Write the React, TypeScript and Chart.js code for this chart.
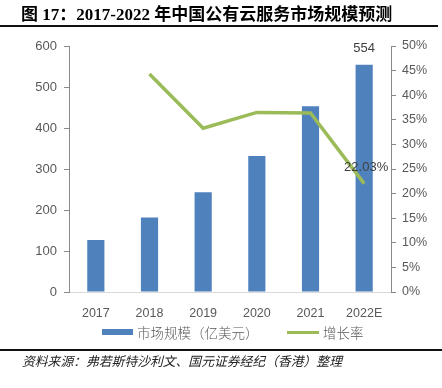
import React, { useEffect, useRef } from "react";
import { Chart, registerables } from "chart.js";

Chart.register(...registerables);

const categories = ["2017", "2018", "2019", "2020", "2021", "2022E"];
const marketSize = [127, 182, 243, 332, 453, 554];
const growthRate = [null, 44.3, 33.3, 36.5, 36.4, 22.03];
const leftTicks = [0, 100, 200, 300, 400, 500, 600];
const rightTicks = [0, 5, 10, 15, 20, 25, 30, 35, 40, 45, 50];
const barLabel = "市场规模（亿美元）";
const lineLabel = "增长率";
const title = "图 17：2017-2022 年中国公有云服务市场规模预测";
const source = "资料来源：弗若斯特沙利文、国元证券经纪（香港）整理";

const BLUE = "#4F81BD";
const GREEN = "#9BBB59";
const AXIS = "#898989";
const TICK_TEXT = "#595959";
const SANS = '"Liberation Sans", Arial, sans-serif';

const labelPlugin = {
  id: "valueLabels",
  afterDatasetsDraw(chart: any) {
    const ctx = chart.ctx;
    ctx.save();
    ctx.font = `13px ${SANS}`;
    ctx.fillStyle = "#404040";
    ctx.textAlign = "center";
    ctx.textBaseline = "middle";
    const barMeta = chart.getDatasetMeta(1);
    const last = marketSize.length - 1;
    const bar = barMeta.data[last];
    if (bar) ctx.fillText(String(marketSize[last]), bar.x, bar.y - 16);
    const lineMeta = chart.getDatasetMeta(0);
    const pt = lineMeta.data[last];
    const v = growthRate[last];
    if (pt && v != null) ctx.fillText(v.toFixed(2) + "%", pt.x + 2, pt.y - 16);
    ctx.restore();
  },
};

export default function App() {
  const ref = useRef<HTMLCanvasElement | null>(null);
  useEffect(() => {
    if (!ref.current) return;
    const chart = new Chart(ref.current, {
      type: "bar",
      data: {
        labels: categories,
        datasets: [
          {
            type: "line",
            label: lineLabel,
            data: growthRate,
            yAxisID: "y1",
            borderColor: GREEN,
            backgroundColor: GREEN,
            borderWidth: 3.5,
            pointRadius: 0,
            tension: 0,
            order: 0,
          } as any,
          {
            type: "bar",
            label: barLabel,
            data: marketSize,
            yAxisID: "y",
            backgroundColor: BLUE,
            barPercentage: 0.32,
            categoryPercentage: 1,
            order: 1,
          },
        ],
      },
      options: {
        responsive: false,
        animation: false,
        layout: { padding: { top: 46, left: 0, right: 0, bottom: 0 } },
        plugins: { legend: { display: false }, tooltip: { enabled: false } },
        scales: {
          x: {
            offset: true,
            grid: { display: true, drawOnChartArea: false, drawTicks: false },
            border: { display: true, color: "#D9D9D9", width: 1 },
            ticks: { color: TICK_TEXT, font: { size: 12.5, family: SANS }, padding: 14, maxRotation: 0 },
            afterFit(s: any) {
              s.height = 96;
            },
          },
          y: {
            position: "left",
            min: 0,
            max: 600,
            afterBuildTicks(s: any) {
              s.ticks = leftTicks.map((v) => ({ value: v }));
            },
            grid: { drawOnChartArea: false, drawTicks: true, tickLength: 5, color: AXIS },
            border: { display: true, color: AXIS, width: 1 },
            ticks: { color: TICK_TEXT, font: { size: 13, family: SANS }, padding: 7 },
            afterFit(s: any) {
              s.width = 69;
            },
          },
          y1: {
            position: "right",
            min: 0,
            max: 50,
            afterBuildTicks(s: any) {
              s.ticks = rightTicks.map((v) => ({ value: v }));
            },
            grid: { drawOnChartArea: false, drawTicks: true, tickLength: 5, color: AXIS },
            border: { display: true, color: AXIS, width: 1 },
            ticks: {
              color: TICK_TEXT,
              font: { size: 12.5, family: SANS },
              padding: 6,
              callback: (v: any) => v + "%",
            },
            afterFit(s: any) {
              s.width = 51;
            },
          },
        },
      },
      plugins: [labelPlugin],
    });
    return () => chart.destroy();
  }, []);

  const legendText: React.CSSProperties = {
    position: "absolute",
    top: 323,
    fontFamily: '"Noto Sans CJK SC", sans-serif',
    fontSize: 13.5,
    lineHeight: "18px",
    color: TICK_TEXT,
    fontWeight: 300,
    whiteSpace: "nowrap",
  };

  return (
    <div style={{ position: "fixed", left: 0, top: 0, width: 442, height: 388, background: "#fff", overflow: "hidden" }}>
      <canvas ref={ref} width={442} height={388} style={{ position: "absolute", left: 0, top: 0 }} />
      <div
        style={{
          position: "absolute",
          left: 21,
          top: 5,
          fontFamily: '"Liberation Serif", "Noto Sans CJK SC", serif',
          fontWeight: "bold",
          fontSize: 17,
          lineHeight: "20px",
          color: "#000",
          whiteSpace: "nowrap",
        }}
      >
        {title}
      </div>
      <div style={{ position: "absolute", left: 0, top: 25, width: 438, height: 2, background: "#111" }} />
      <div style={{ position: "absolute", left: 102, top: 329, width: 31, height: 6, background: BLUE }} />
      <div style={{ ...legendText, left: 137 }}>{barLabel}</div>
      <div style={{ position: "absolute", left: 287, top: 331, width: 32, height: 3, background: GREEN }} />
      <div style={{ ...legendText, left: 323 }}>{lineLabel}</div>
      <div style={{ position: "absolute", left: 0, top: 349, width: 442, height: 2, background: "#111" }} />
      <div
        style={{
          position: "absolute",
          left: 22,
          top: 352,
          fontFamily: '"Noto Sans CJK SC", sans-serif',
          fontStyle: "italic",
          fontSize: 12.8,
          lineHeight: "17px",
          color: "#222",
          whiteSpace: "nowrap",
        }}
      >
        {source}
      </div>
    </div>
  );
}
